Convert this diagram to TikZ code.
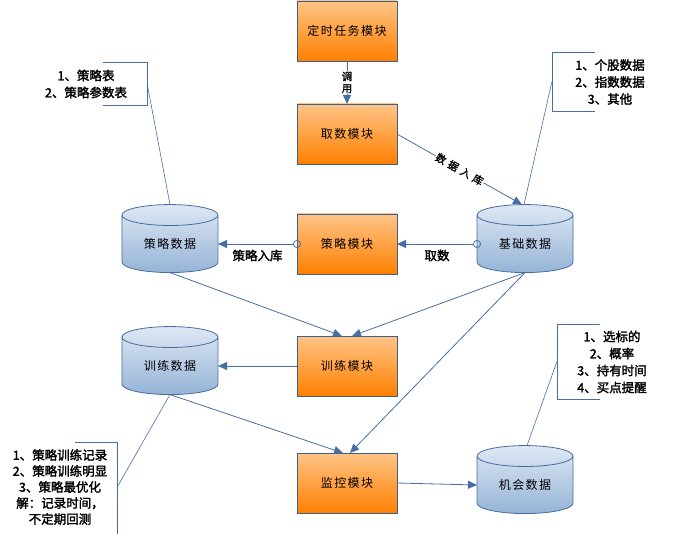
\documentclass[tikz,border=0pt]{standalone}
\usepackage{fontspec}
\setmainfont{Noto Sans CJK SC}[LetterSpace=12]
\newfontfamily\boldcjk{Noto Sans CJK SC}[FakeBold=2]
\newfontfamily\tagcjk{Noto Sans CJK SC}[FakeBold=1.5, LetterSpace=35]
\usetikzlibrary{arrows.meta, positioning, shapes.geometric}
\definecolor{boxline}{RGB}{60,96,140}
\definecolor{orangetop}{RGB}{255,196,135}
\definecolor{orangebot}{RGB}{255,128,0}
\definecolor{dbline}{RGB}{72,108,160}
\definecolor{dbtop}{RGB}{222,232,244}
\definecolor{dbbot}{RGB}{150,180,215}
\definecolor{linkblue}{RGB}{70,110,165}
\newcommand{\notefont}{\boldcjk\fontsize{12.5}{17}\selectfont}

\begin{document}
\begin{tikzpicture}[x=1pt, y=-1pt, node distance=80pt,
  every node/.style={font=\fontsize{12}{14}\selectfont},
  module/.style={draw=boxline, line width=0.8pt, top color=orangetop, bottom color=orangebot, minimum width=100pt, minimum height=60pt, inner sep=0pt, outer sep=0pt},
  dbase/.style={cylinder, shape border rotate=90, aspect=0.4, draw=dbline, line width=0.8pt, top color=dbtop, bottom color=dbbot, minimum width=96pt, minimum height=68pt, inner sep=0pt, outer sep=0pt},
  note/.style={font=\notefont, align=center, inner sep=0pt},
  link/.style={draw=linkblue, line width=0.8pt, -{Triangle[length=9pt, width=8pt]}},
  feed/.style={link, {Circle[open, length=8pt, width=8pt]}-{Triangle[length=9pt, width=8pt]}, shorten <=-4pt},
  leader/.style={draw=linkblue, line width=0.6pt},
  tag/.style={font=\tagcjk\fontsize{10.5}{12}\selectfont, fill=white, inner sep=1pt}]
  \useasboundingbox (0,0) rectangle (674,534);
  % modules
  \node[module] (timer) at (347,31) {定时任务模块};
  \node[module, below=43pt of timer] (fetch) {取数模块};
  \node[module, below=50pt of fetch] (strat) {策略模块};
  \node[module, below=62pt of strat] (train) {训练模块};
  \node[module, below=57pt of train] (monitor) {监控模块};
  % databases
  \node[dbase, left=79pt of strat] (stratdb) {策略数据};
  \node[dbase, right=80pt of strat] (basedb) {基础数据};
  \node[dbase, left=79pt of train] (traindb) {训练数据};
  \node[dbase, right=80pt of monitor, yshift=-2pt] (chancedb) {\raisebox{-6pt}{机会数据}};
  % notes
  \node[note, minimum width=122pt, minimum height=42pt] (n1) at (86,84) {1、策略表\\2、策略参数表};
  \node[note, minimum width=116pt, minimum height=59pt] (n2) at (610,82) {1、个股数据\\2、指数数据\\3、其他};
  \node[note, minimum width=110pt, minimum height=75pt] (n3) at (612,362) {1、选标的\\2、概率\\3、持有时间\\4、买点提醒};
  \node[note, font=\boldcjk\fontsize{12.5}{16}\selectfont, minimum width=114pt, minimum height=90pt] (n4) at (60,487) {1、策略训练记录\\2、策略训练明显\\3、策略最优化\\解：记录时间，\\不定期回测};
  \draw[leader] ([xshift=-44pt]n1.north east) -- (n1.north east) -- (n1.south east) -- ++(-44pt,0);
  \draw[leader] ([xshift=43pt]n2.north west) -- (n2.north west) -- (n2.south west) -- ++(43pt,0);
  \draw[leader] ([xshift=43pt]n3.north west) -- (n3.north west) -- (n3.south west) -- ++(43pt,0);
  \draw[leader] ([xshift=-42pt]n4.north east) -- (n4.north east) -- ++(0,100);
  \draw[leader] (n1.east) -- (stratdb.north);
  \draw[leader] (n2.west) -- ([xshift=-1pt]basedb.north);
  \draw[leader] (n3.west) -- ([xshift=2pt]chancedb.north);
  \draw[leader] (n4.east) -- (traindb.south);
  % connectors
  \draw[link] (timer) -- node[tag, align=center] {调\\用} (fetch);
  \draw[link] (fetch.east) -- node[tag, sloped] {数据入库} ([xshift=-3pt]basedb.north);
  \draw[feed] (basedb.west) -- node[below=2pt, font=\notefont] {取数} (strat.east);
  \draw[feed] (strat.west) -- node[below=2pt, font=\notefont] {策略入库} (stratdb.east);
  \draw[link] (stratdb.south) -- ([xshift=-5pt]train.north);
  \draw[link] (basedb.south) -- ([xshift=5pt]train.north);
  \draw[link] (train.west) -- (traindb.east);
  \draw[link] (traindb.south) -- ([xshift=-4pt]monitor.north);
  \draw[link] (basedb.south) -- ([xshift=3pt]monitor.north);
  \draw[link] (monitor.east) -- (chancedb.west);
\end{tikzpicture}
\end{document}
